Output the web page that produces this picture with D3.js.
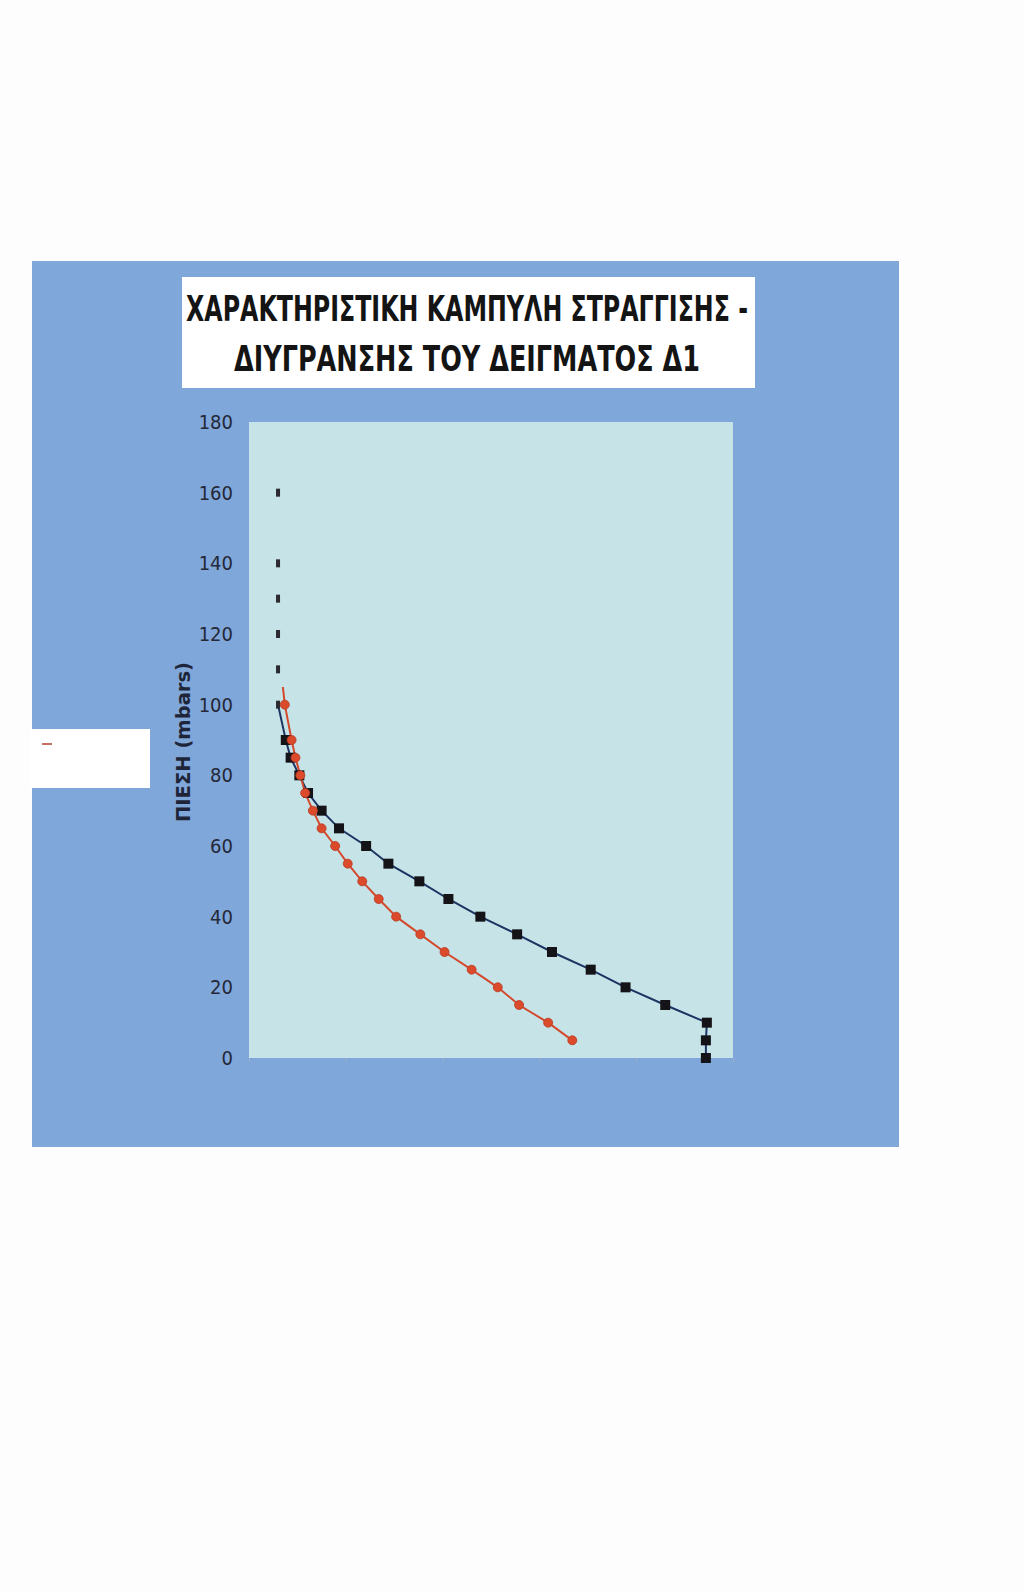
<!DOCTYPE html>
<html><head><meta charset="utf-8">
<script src="https://cdn.jsdelivr.net/npm/d3@7"></script>
<style>
html,body{margin:0;padding:0;background:#fdfdfd;}
svg{display:block;}
</style></head>
<body>
<script>
// ---- data ----
const titleLines = ["ΧΑΡΑΚΤΗΡΙΣΤΙΚΗ ΚΑΜΠΥΛΗ ΣΤΡΑΓΓΙΣΗΣ -", "ΔΙΥΓΡΑΝΣΗΣ ΤΟΥ ΔΕΙΓΜΑΤΟΣ Δ1"];
const yAxisTitle = "ΠΙΕΣΗ (mbars)";
const yTicks = [0, 20, 40, 60, 80, 100, 120, 140, 160, 180];
const xTicks = [0, 10, 20, 30, 40, 50];
// drainage curve (black squares, navy line)
const drainP = [100, 90, 85, 80, 75, 70, 65, 60, 55, 50, 45, 40, 35, 30, 25, 20, 15, 10, 5, 0];
const drainX = [3.0, 3.8, 4.3, 5.2, 6.1, 7.5, 9.3, 12.1, 14.4, 17.6, 20.6, 23.9, 27.7, 31.3, 35.3, 38.9, 43.0, 47.3, 47.2, 47.2];
// upper drainage points (faint in scan, no visible line)
const upperP = [160, 140, 130, 120, 110];
const upperX = [3.0, 3.0, 3.0, 3.0, 3.0];
// wetting curve (red circles)
const wetP = [105, 100, 90, 85, 80, 75, 70, 65, 60, 55, 50, 45, 40, 35, 30, 25, 20, 15, 10, 5];
const wetX = [3.5, 3.7, 4.4, 4.8, 5.3, 5.8, 6.6, 7.5, 8.9, 10.2, 11.7, 13.4, 15.2, 17.7, 20.2, 23.0, 25.7, 27.9, 30.9, 33.4];

const W = 1024, H = 1591;
const svg = d3.select("body").append("svg").attr("width", W).attr("height", H);
const narrow = "'Liberation Sans Narrow','DejaVu Sans Condensed','Arial Narrow',sans-serif";

// blue panel
svg.append("rect").attr("x", 32).attr("y", 261).attr("width", 867).attr("height", 886).attr("fill", "#80a7d9");
// white scan patch on left
svg.append("rect").attr("x", 30).attr("y", 729).attr("width", 120).attr("height", 59).attr("fill", "#ffffff");
svg.append("line").attr("x1", 42).attr("x2", 52).attr("y1", 744).attr("y2", 744).attr("stroke", "#b04030").attr("stroke-width", 1.5);

// title box
svg.append("rect").attr("x", 182).attr("y", 277).attr("width", 573).attr("height", 111).attr("fill", "#ffffff");
const tl = [{t: titleLines[0], y: 321, len: 562}, {t: titleLines[1], y: 371, len: 466}];
svg.selectAll("text.title").data(tl).join("text").attr("class", "title")
  .attr("x", 467).attr("y", d => d.y).attr("text-anchor", "middle")
  .attr("textLength", d => d.len).attr("lengthAdjust", "spacingAndGlyphs")
  .style("font-family", narrow).style("font-weight", "bold").style("font-size", "35px").attr("fill", "#141414")
  .text(d => d.t);

// plot area
const L = 249, R = 733, T = 422, B = 1058;
svg.append("rect").attr("x", L).attr("y", T).attr("width", R - L).attr("height", B - T).attr("fill", "#c6e4e8");

const x = d3.scaleLinear().domain([0, 50]).range([L, R]);
const y = d3.scaleLinear().domain([0, 180]).range([B, T]);

// y axis (labels only)
const yAx = svg.append("g").attr("transform", `translate(${L},0)`)
  .call(d3.axisLeft(y).tickValues(yTicks).tickSize(0).tickPadding(16));
yAx.select(".domain").remove();
yAx.selectAll("text").style("font-family", narrow).style("font-size", "20px").attr("fill", "#242838");

// x axis ticks (no labels)
const xAx = svg.append("g").attr("transform", `translate(0,${B})`)
  .call(d3.axisBottom(x).tickValues(xTicks).tickSize(4).tickFormat(""));
xAx.select(".domain").remove();
xAx.selectAll("line").attr("stroke", "#9ab0c8");

// y axis title
svg.append("text").attr("transform", "translate(190,742) rotate(-90)").attr("text-anchor", "middle")
  .attr("textLength", 160).attr("lengthAdjust", "spacingAndGlyphs")
  .style("font-family", narrow).style("font-size", "19px").style("font-weight", "bold").attr("fill", "#1e2538")
  .text(yAxisTitle);

const drain = drainP.map((p, i) => ({p, v: drainX[i]}));
const wet = wetP.map((p, i) => ({p, v: wetX[i]}));
const upper = upperP.map((p, i) => ({p, v: upperX[i]}));
const line = d3.line().x(d => x(d.v)).y(d => y(d.p));

// drainage line
svg.append("path").datum(drain).attr("d", line).attr("fill", "none").attr("stroke", "#1d3462").attr("stroke-width", 2);
// wetting line
svg.append("path").datum(wet).attr("d", line).attr("fill", "none").attr("stroke", "#d4492c").attr("stroke-width", 2);

svg.selectAll("rect.sq").data(drain.slice(1)).join("rect").attr("class", "sq")
  .attr("x", d => x(d.v) - 5).attr("y", d => y(d.p) - 5).attr("width", 10).attr("height", 10)
  .attr("fill", "#141418");
svg.selectAll("rect.up").data(upper.concat([drain[0]])).join("rect").attr("class", "up")
  .attr("x", d => x(d.v) - 2).attr("y", d => y(d.p) - 4).attr("width", 4).attr("height", 8)
  .attr("fill", "#2a2a30");

svg.selectAll("circle.wet").data(wet.slice(1)).join("circle").attr("class", "wet")
  .attr("cx", d => x(d.v)).attr("cy", d => y(d.p)).attr("r", 4.5)
  .attr("fill", "#dc4a2c").attr("stroke", "#b83a22").attr("stroke-width", 0.8);
</script>
</body></html>
